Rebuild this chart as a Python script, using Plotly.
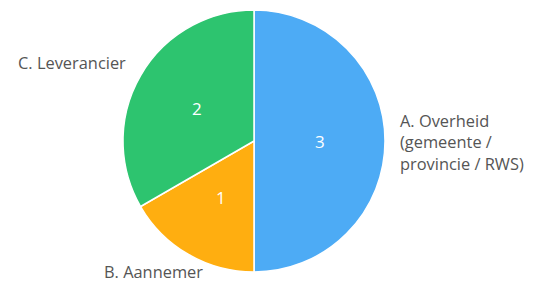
import math
import plotly.graph_objects as go

labels = ["A. Overheid<br>(gemeente /<br>provincie / RWS)", "B. Aannemer", "C. Leverancier"]
values = [3, 1, 2]
colors = ["#4dabf5", "#ffae10", "#2dc46f"]

W, H = 534, 283
cx, cy, r = 246, 133, 131  # pie centre / radius in figure px

fig = go.Figure()
fig.add_trace(go.Pie(
    labels=labels, values=values, sort=False, direction="clockwise", rotation=0,
    marker=dict(colors=colors, line=dict(color="white", width=1.5)),
    textinfo="none",
    domain=dict(x=[(cx - r) / W, (cx + r) / W], y=[1 - (cy + r) / H, 1 - (cy - r) / H]),
    showlegend=False, hoverinfo="label+value",
))

# label styles: (xanchor, yanchor, xshift, yshift)
label_style = [("left", "middle", -3, -1), ("center", "middle", -27, -2), ("right", "middle", 1, 4)]

total = sum(values)
cum = 0
for lab, v, st in zip(labels, values, label_style):
    mid = (cum + v / 2) / total * 2 * math.pi
    cum += v
    dx, dy = math.sin(mid), math.cos(mid)
    # inside value at half radius
    fig.add_annotation(
        x=(cx + 0.5 * r * dx) / W, y=1 - (cy - 0.5 * r * dy) / H, xref="paper", yref="paper",
        text=str(v), showarrow=False, font=dict(color="white", size=17, family="Open Sans"),
        xanchor="center", yanchor="middle",
    )
    R = r + 17
    fig.add_annotation(
        x=(cx + R * dx) / W, y=1 - (cy - R * dy) / H, xref="paper", yref="paper",
        text=lab, showarrow=False, align="left", borderpad=0,
        font=dict(color="#555555", size=16.4, family="Open Sans"),
        xanchor=st[0], yanchor=st[1], xshift=st[2], yshift=st[3],
    )

fig.update_layout(
    width=W, height=H, margin=dict(l=0, r=0, t=0, b=0),
    paper_bgcolor="white", plot_bgcolor="white",
)
fig.write_html("out.html")
